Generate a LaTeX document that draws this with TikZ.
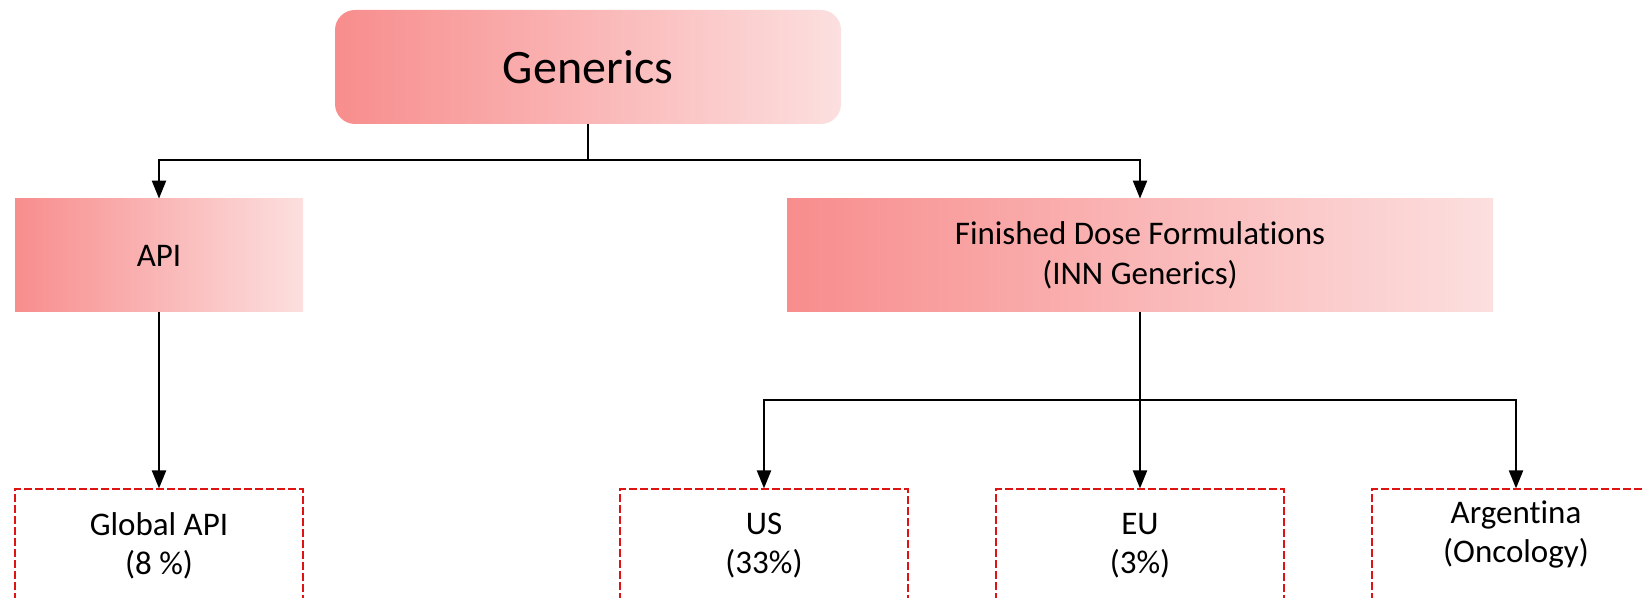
\documentclass[tikz,border=0pt]{standalone}
\usepackage{fontspec}
\setmainfont[Ligatures=NoCommon]{Carlito}
\usetikzlibrary{arrows.meta}
\usetikzlibrary{positioning}
\definecolor{pinkdark}{RGB}{248,141,141}
\definecolor{pinklight}{RGB}{252,223,223}
\definecolor{dashred}{RGB}{222,20,20}
\tikzset{
  headbox/.style={
    rectangle,
    rounded corners=10pt,
    left color=pinkdark, right color=pinklight,
    minimum width=253pt, minimum height=57pt,
    font=\fontsize{24}{28}\selectfont,
    text centered,
  },
  groupbox/.style={
    rectangle,
    left color=pinkdark, right color=pinklight,
    minimum height=56.5pt,
    align=center,
    font=\fontsize{16.5}{20}\selectfont,
  },
  marketbox/.style={
    rectangle,
    draw=dashred, dash pattern=on 4pt off 1.5pt, line width=1pt,
    minimum width=144pt, minimum height=56pt,
    align=center,
    font=\fontsize{16.5}{19.5}\selectfont,
  },
  link/.style={line width=1.1pt, -{Triangle[length=9pt,width=7pt]}},
}

\begin{document}
\begin{tikzpicture}[x=0.5pt,y=-0.5pt]
  \useasboundingbox (0,0) rectangle (1642,598);
  \clip (0,0) rectangle (1642,598);

  \node[headbox] (gen) at (588,67) {Generics};
  \node[groupbox, minimum width=144pt] (api) at (159,255.5) {API};
  \node[groupbox, minimum width=353pt] (fdf) at (1140,255.5)
    {Finished Dose Formulations\\(INN Generics)};

  \node[marketbox, below=88pt of api] (glob) {Global API\\(8 \%)};
  \node[marketbox, below=88pt of fdf] (eu) {EU\\(3\%)};
  \node[marketbox, left=43pt of eu] (us) {US\\(33\%)};
  \node[marketbox, right=43pt of eu, text depth=14pt] (arg) {Argentina\\(Oncology)};

  \coordinate (split1) at (588,160);
  \coordinate (split2) at (1140,400);

  \draw[link] (gen.south) -- (split1) -| (api.north);
  \draw[link] (split1) -| (fdf.north);
  \draw[link] (api.south) -- (glob.north);
  \draw[link] (fdf.south) -- (eu.north);
  \draw[link] (split2) -| (us.north);
  \draw[link] (split2) -| (arg.north);
\end{tikzpicture}
\end{document}
